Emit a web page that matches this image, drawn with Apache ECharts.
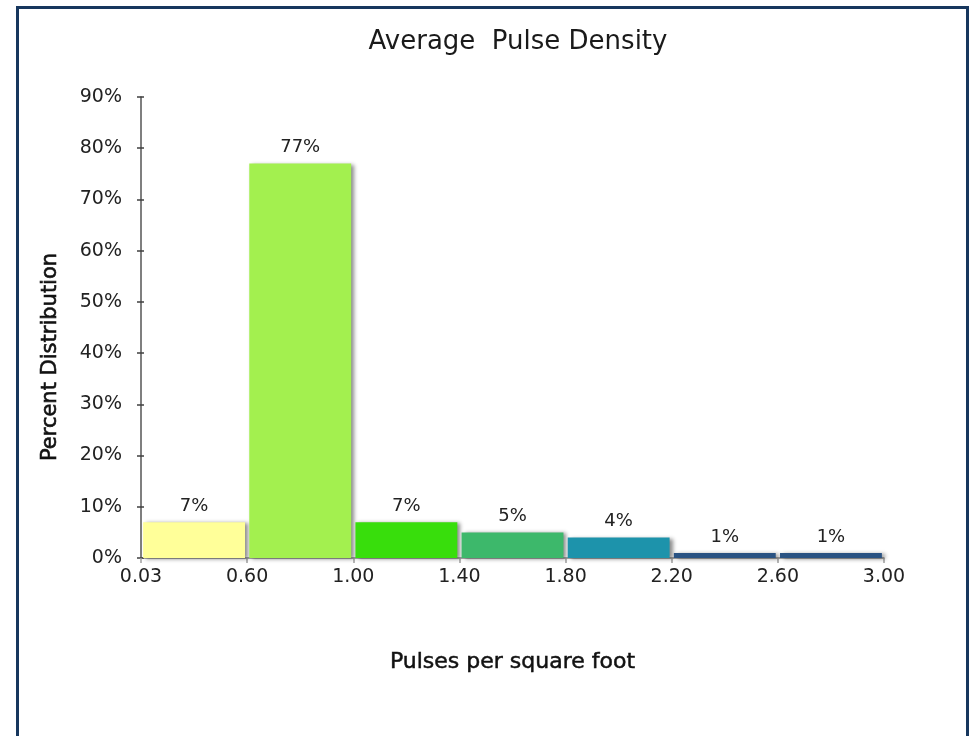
<!DOCTYPE html>
<html>
<head>
<meta charset="utf-8">
<script src="https://cdn.jsdelivr.net/npm/echarts@6/dist/echarts.min.js"></script>
<style>
  html, body { margin: 0; padding: 0; background: #ffffff; }
  #chart { width: 970px; height: 736px; }
</style>
</head>
<body>
<div id="chart"></div>
<script>
// Bin edges printed under the axis ticks
const edgeLabels = ['0.03', '0.60', '1.00', '1.40', '1.80', '2.20', '2.60', '3.00'];
// One category per bin (between consecutive edges)
const binNames = ['0.03-0.60', '0.60-1.00', '1.00-1.40', '1.40-1.80', '1.80-2.20', '2.20-2.60', '2.60-3.00'];
// Share of area in each bin, percent
const percentValues = [7, 77, 7, 5, 4, 1, 1];
// Fill per bin
const barColors = ['#FFFF99', '#A3F04F', '#38DE0C', '#3DB86B', '#1D93AB', '#2A5383', '#2A5383'];

const yMin = 0, yMax = 90, yStep = 10;

const chart = echarts.init(document.getElementById('chart'));

const wideFont = 'DejaVu Sans, Verdana, sans-serif';

chart.setOption({
  backgroundColor: '#ffffff',
  animation: false,
  title: {
    text: 'Average  Pulse Density',
    left: 513,
    textAlign: 'center',
    top: 24,
    textStyle: { fontFamily: wideFont, fontSize: 26, fontWeight: 'normal', color: '#1a1a1a' }
  },
  graphic: [{
    type: 'rect',
    shape: { x: 17.5, y: 7.5, width: 950, height: 760 },
    style: { fill: 'none', stroke: '#17375E', lineWidth: 3 },
    silent: true
  }, {
    // vertical axis title, sitting a little below the plot's middle
    type: 'text',
    x: 51,
    y: 357,
    rotation: Math.PI / 2,
    style: {
      text: 'Percent Distribution',
      fontFamily: wideFont, fontSize: 21, fill: '#111111',
      stroke: '#111111', lineWidth: 0.6,
      align: 'center', verticalAlign: 'middle'
    },
    silent: true
  }],
  grid: { left: 141, right: 86, top: 97, bottom: 178, containLabel: false },
  xAxis: [{
    type: 'category',
    data: binNames,
    show: false
  }, {
    type: 'value',
    min: 0,
    max: edgeLabels.length - 1,
    interval: 1,
    position: 'bottom',
    splitLine: { show: false },
    axisLine: { show: true, lineStyle: { color: '#8C8C8C', width: 1.5 } },
    axisTick: { show: true, length: 5, lineStyle: { color: '#A0A0A0', width: 1.5 } },
    axisLabel: {
      formatter: v => edgeLabels[v],
      margin: 10,
      fontFamily: wideFont, fontSize: 19, color: '#222222'
    },
    name: 'Pulses per square foot',
    nameLocation: 'middle',
    nameGap: 93,
    nameTextStyle: {
      fontFamily: wideFont, fontSize: 22, color: '#111111',
      textBorderColor: '#111111', textBorderWidth: 0.5
    }
  }],
  yAxis: [{
    type: 'value',
    min: yMin, max: yMax, interval: yStep,
    position: 'left',
    splitLine: { show: false },
    axisLine: { show: true, lineStyle: { color: '#555555', width: 1.5 } },
    axisTick: { show: true, length: 4, lineStyle: { color: '#404040', width: 1.5 } },
    axisLabel: {
      formatter: '{value}%',
      margin: 19,
      fontFamily: wideFont, fontSize: 19, color: '#222222'
    }
  }, {
    type: 'value',
    min: yMin, max: yMax, interval: yStep,
    position: 'left',
    splitLine: { show: false },
    axisLine: { show: false },
    axisTick: { show: true, inside: true, length: 3, lineStyle: { color: '#404040', width: 1.5 } },
    axisLabel: { show: false }
  }],
  series: [{
    type: 'bar',
    xAxisIndex: 0,
    yAxisIndex: 0,
    barCategoryGap: '4%',
    data: percentValues.map((v, i) => ({
      value: v,
      itemStyle: {
        color: barColors[i],
        shadowColor: 'rgba(0,0,0,0.45)',
        shadowBlur: 4,
        shadowOffsetX: 3,
        shadowOffsetY: 1
      }
    })),
    label: {
      show: true,
      position: 'top',
      distance: 7,
      formatter: p => p.value + '%',
      fontFamily: wideFont, fontSize: 18, color: '#222222'
    }
  }]
});
</script>
</body>
</html>
